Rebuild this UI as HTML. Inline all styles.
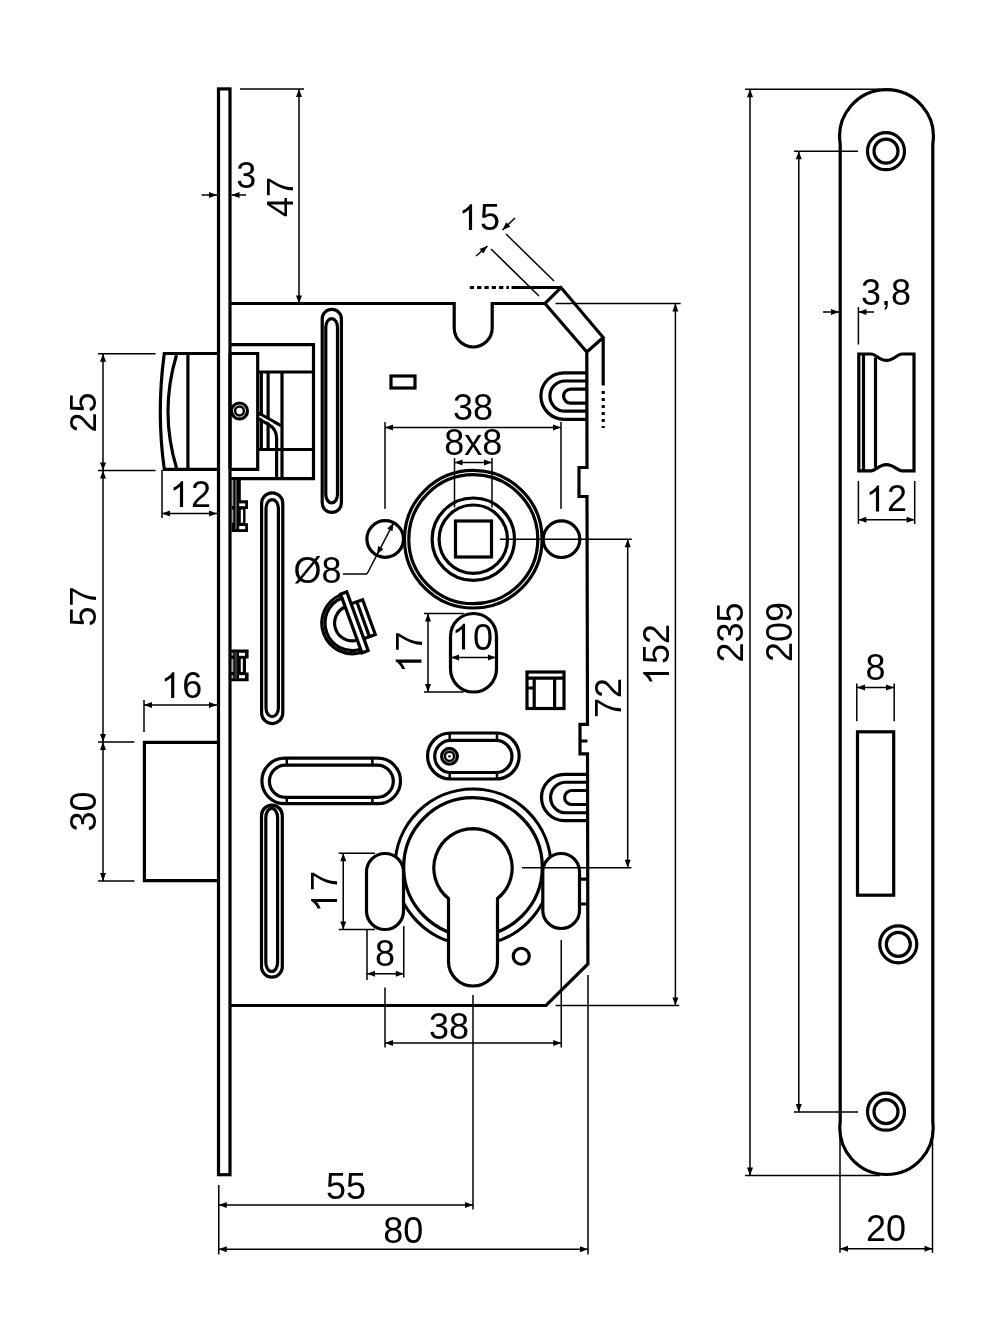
<!DOCTYPE html>
<html><head><meta charset="utf-8">
<style>
html,body{margin:0;padding:0;background:#fff;}
svg{display:block;will-change:transform;}
text{font-family:"Liberation Sans",sans-serif;font-size:36px;fill:#000;}
.k{fill:none;stroke:#000;stroke-width:3.2;stroke-linejoin:miter;}
.m{fill:none;stroke:#000;stroke-width:2.5;}
.t{fill:none;stroke:#000;stroke-width:1.5;}
.a{fill:#000;stroke:none;}
</style></head><body>
<svg width="1000" height="1342" viewBox="0 0 1000 1342">
<rect width="1000" height="1342" fill="#fff"/>
<defs>
<path id="ar" d="M0,0 L-8,-2.8 L-8,2.8 Z"/>
</defs>

<!-- FACEPLATE -->
<rect class="k" x="218.5" y="88.9" width="11.5" height="1085.8"/>

<!-- BODY OUTLINE -->
<path class="k" d="M230,303.5 H454.2 V328 A19,19 0 0 0 492.2,328 V303.5 H545 L561,287.5 L603.2,337.5 L586.8,352 L587,467.5 H579 V496.5 H587 L587.5,724.4 H580 V753.8 H587.5 L587.9,964 L546,1005.5 H230"/>
<path class="k" d="M545,303.5 L586.8,352 M603.2,337.5 V385.6 M580,741 H587.5"/>
<path class="k" d="M603.2,391 V428" stroke-dasharray="3,4"/>
<path class="k" d="M511.5,287.5 H561"/>
<path class="k" d="M469.8,287.5 H509" stroke-dasharray="4.3,3"/>


<!-- DEADBOLT -->
<path class="k" d="M217,742.4 H144.4 V880.6 H217"/>
<!-- LATCH outside -->
<path class="k" d="M217,353.5 H164.3 Q156.3,411.5 164.3,469.4 H217"/>
<path class="k" d="M176.5,355 Q159.5,411.5 176.5,468"/>
<path class="k" d="M187.9,355 V468"/>
<!-- LATCH inside -->
<path class="k" d="M230,353.5 H257.7 V469.4 H230"/>
<circle class="k" cx="239.5" cy="411" r="8"/>
<circle class="m" cx="239.5" cy="411" r="4.4"/>
<path class="k" d="M230,344.6 H313.5 V478.7 H230"/>
<path class="k" d="M258,372 H313.5 M258,449.5 H313.5"/>
<path class="k" d="M261.3,372 V449.5 M268.1,372 V449.5" stroke-width="3"/>
<path class="k" d="M282,372 V478.5" stroke-width="3"/>
<path class="k" stroke-width="3" style="stroke-linejoin:round" d="M258,413 L281,425.7 M258,418.6 L268,424.2 Q276.6,429 276.6,438 V478.5"/>
<path d="M259.5,416.3 L273,423.8" stroke="#fff" stroke-width="1.8" fill="none"/>
<path class="k" d="M230,353.5 V469.4"/>

<!-- CLIPS on faceplate inner side -->
<path class="a" d="M231.5,477 H240.8 V500.2 H248 V509.1 H245.5 V523.2 H248 V532 H231.5 Z"/>
<rect x="239.2" y="503.4" width="6" height="2.8" fill="#fff"/>
<rect x="239.2" y="526" width="6" height="3.2" fill="#fff"/>
<rect x="240.8" y="509.6" width="2.3" height="13.1" fill="#fff"/>
<rect x="231.9" y="480" width="1.5" height="26" fill="#999"/>
<rect x="231.9" y="509.6" width="1.5" height="13.1" fill="#999"/>
<rect x="235" y="480" width="1.9" height="49" fill="#555"/>
<path class="a" d="M229,649.6 H248.6 V658.4 H246 V672.4 H248.6 V681.2 H229 Z"/>
<rect x="239" y="652.8" width="6" height="3" fill="#fff"/>
<rect x="239" y="675.2" width="6" height="3" fill="#fff"/>
<rect x="240.8" y="658.8" width="2" height="13.2" fill="#fff"/>
<rect x="231.5" y="658.8" width="1.8" height="13.2" fill="#aaa"/>
<rect x="231.5" y="652.8" width="1.8" height="2.8" fill="#aaa"/>
<rect x="231.5" y="675.2" width="1.8" height="3.2" fill="#aaa"/>
<rect x="234.4" y="652" width="2.8" height="27" fill="#333"/>

<!-- SLOTS -->
<!-- A top vertical -->
<path class="k" d="M322.2,319 A9.6,9.6 0 0 1 341.4,319 V502.8 A9.6,9.6 0 0 1 322.2,502.8 Z"/>
<path class="k" d="M325.8,327 A5.85,8.3 0 0 1 337.5,327 V494.6 A5.85,8.3 0 0 1 325.8,494.6 Z"/>
<!-- B left long vertical -->
<path class="k" d="M261.6,503.4 A10.6,10.6 0 0 1 282.8,503.4 V713 A10.6,10.6 0 0 1 261.6,713 Z"/>
<path class="k" d="M266,508.1 A6.2,8.5 0 0 1 278.4,508.1 V708.1 A6.2,8.5 0 0 1 266,708.1 Z"/>
<!-- D horizontal left -->
<path class="k" d="M284.65,758.2 H377.75 A22.75,22.75 0 0 1 377.75,803.7 H284.65 A22.75,22.75 0 0 1 284.65,758.2 Z"/>
<path class="k" d="M285.5,765.1 H377.2 A16.1,16.1 0 0 1 377.2,797.3 H285.5 A16.1,16.1 0 0 1 285.5,765.1 Z"/>
<path class="m" d="M286.8,758.2 V765.1 M372.4,758.2 V765.1 M286.8,797.3 V803.7 M372.4,797.3 V803.7"/>
<!-- C bottom-left vertical -->
<path class="k" d="M261.5,815.6 A10.4,10.4 0 0 1 282.3,815.6 V966.8 A10.4,10.4 0 0 1 261.5,966.8 Z"/>
<path class="k" d="M265.8,817.4 A5.9,9 0 0 1 277.6,817.4 V962.4 A5.9,9 0 0 1 265.8,962.4 Z"/>
<!-- E horizontal with screw -->
<path class="k" d="M450.5,733 H496.2 A23,23 0 0 1 496.2,779 H450.5 A23,23 0 0 1 450.5,733 Z"/>
<path class="k" d="M450.8,740.3 H495.9 A16.1,16.1 0 0 1 495.9,772.5 H450.8 A16.1,16.1 0 0 1 450.8,740.3 Z"/>
<path class="m" d="M449.7,733 V740.3 M497,733 V740.3 M449.7,772.5 V779 M497,772.5 V779"/>
<circle class="k" cx="449.5" cy="756.35" r="7.9"/>
<circle class="m" cx="449.5" cy="756.35" r="4.6"/>
<circle class="a" cx="449.5" cy="756.35" r="1.2"/>
<!-- small rect top -->
<rect class="k" x="391" y="376" width="24" height="12"/>

<!-- FOLLOWER -->
<circle class="k" cx="473.3" cy="539.2" r="68.8"/>
<circle class="k" cx="473.3" cy="539.2" r="64.5"/>
<circle class="k" cx="473.3" cy="539.2" r="41.2"/>
<circle class="k" cx="473.3" cy="539.2" r="34.2"/>
<rect class="k" x="455.5" y="521" width="36" height="36"/>
<circle class="k" cx="385.2" cy="539" r="18.3"/>
<circle class="k" cx="561.5" cy="539.2" r="18.3"/>

<!-- "10" slot -->
<path class="k" d="M450.5,636.5 A23,23 0 0 1 496.5,636.5 V669 A23,23 0 0 1 450.5,669 Z"/>

<!-- H rect -->
<rect class="k" x="527" y="672" width="37" height="36.5"/>
<path class="k" d="M527,678.2 H564 M534.2,678.2 V708.5 M554.6,678.2 V708.5 M527,688 H534.2"/>

<!-- U hooks -->
<path class="k" d="M587.5,372.9 H564.1 A23.2,23.2 0 0 0 564.1,419.3 H587.5"/>
<path class="k" d="M587.5,381 H565 A15.1,15.1 0 0 0 565,411.2 H587.5"/>
<path class="k" d="M587.5,389.1 H570.6 A7,7 0 0 0 570.6,403.1 H587.5"/>
<path class="k" d="M587.5,774.4 H564.6 A23.1,23.1 0 0 0 564.6,820.6 H587.5"/>
<path class="k" d="M587.5,782.25 H565.85 A15.25,15.25 0 0 0 565.85,812.75 H587.5"/>
<path class="k" d="M587.5,790.5 H571.6 A7,7 0 0 0 571.6,804.5 H587.5"/>

<!-- CYLINDER -->
<circle class="k" cx="473" cy="867" r="78" stroke-dasharray="0" />
<circle class="k" cx="473" cy="867" r="69.3"/>
<path class="k" fill="#fff" style="fill:#fff" d="M473,828.7 A39.2,39.2 0 0 1 497.5,898.5 V961.5 A24.5,24.5 0 0 1 448.5,961.5 V898.5 A39.2,39.2 0 0 1 473,828.7 Z"/>
<path class="k" style="fill:#fff" d="M385,853.5 A18.5,18.5 0 0 1 403.5,872 V911 A18.5,18.5 0 0 1 366.5,911 V872 A18.5,18.5 0 0 1 385,853.5 Z"/>
<path class="k" style="fill:#fff" d="M561.15,853.5 A18.35,18.35 0 0 1 579.5,871.85 V910.15 A18.35,18.35 0 0 1 542.8,910.15 V871.85 A18.35,18.35 0 0 1 561.15,853.5 Z"/>
<path class="k" d="M579.5,879.2 H587 M579.5,904 H587"/>
<circle class="k" cx="521.25" cy="956.25" r="8"/>

<!-- THUMBTURN -->
<g transform="translate(352.4,623.1) rotate(-20)">
<path class="k" d="M-1.5,-30.563 A30.6,30.6 0 0 0 -1.5,30.563" stroke-width="5.6"/>
<path class="k" d="M-1.5,-27.359 A27.4,27.4 0 0 0 -1.5,27.359" stroke-width="2.4"/>
<path class="k" d="M-1.5,-17.737 A17.8,17.8 0 0 0 -1.5,17.737"/>
<rect class="k" x="-1.2" y="-31.3" width="6.6" height="62.6" style="fill:#fff" stroke-width="3.6"/>
<path class="k" d="M5.4,-18.5 H17.6 V18.5 H5.4 M11.4,-18.5 V18.5" stroke-width="3.6"/>
</g>


<!-- STRIKE PLATE -->
<path class="k" d="M840.2,143.85 A46.88,46.88 0 1 1 932.8,143.85 V1122.05 A46.66,46.66 0 1 1 840.2,1122.05 Z"/>
<circle class="k" cx="886" cy="151.2" r="18.5"/><circle class="k" cx="886" cy="151.2" r="12"/>
<circle class="k" cx="898.3" cy="944.3" r="18.5"/><circle class="k" cx="898.3" cy="944.3" r="12"/>
<circle class="k" cx="886" cy="1111.7" r="18.5"/><circle class="k" cx="886" cy="1111.7" r="12"/>
<path class="k" d="M858.8,354 H871 C876,354 879,360.4 886.4,360.4 C894,360.4 897,354 902,354 H914 V470.8 H902 C897,470.8 894,464.6 886.4,464.6 C879,464.6 876,470.8 871,470.8 H858.8 Z"/>
<path class="k" d="M863.5,354 V470.8" stroke-width="2.6"/>
<path class="k" d="M875.5,357.5 V467.5"/>
<rect class="k" x="857.5" y="731.8" width="36.2" height="163.4"/>

<!-- DIMS -->
<path class="t" d="M201.6,195 L217,195"/><path class="a" d="M217.00,195.00 L209.00,198.00 L209.00,192.00 Z"/><path class="t" d="M231.5,195 L246,195"/><path class="a" d="M231.50,195.00 L239.50,192.00 L239.50,198.00 Z"/>
<g transform="translate(246.3,188.3)"><text x="0" y="0" text-anchor="middle">3</text></g>
<path class="t" d="M240,89 L304,89"/><path class="t" d="M299,89 L299,303.5"/><path class="a" d="M299.00,89.00 L302.00,97.00 L296.00,97.00 Z"/><path class="a" d="M299.00,303.50 L296.00,295.50 L302.00,295.50 Z"/>
<g transform="translate(279.5,197) rotate(-90) translate(0,13)"><text x="0" y="0" text-anchor="middle">47</text></g>
<path class="t" d="M98,353.8 L155.6,353.8"/><path class="t" d="M98,470.6 L155.6,470.6"/><path class="t" d="M98,742 L134.4,742"/><path class="t" d="M98,881 L134.4,881"/>
<path class="t" d="M103,353.8 L103,470.6"/><path class="a" d="M103.00,353.80 L106.00,361.80 L100.00,361.80 Z"/><path class="a" d="M103.00,470.60 L100.00,462.60 L106.00,462.60 Z"/><path class="t" d="M103,470.6 L103,742"/><path class="a" d="M103.00,470.60 L106.00,478.60 L100.00,478.60 Z"/><path class="a" d="M103.00,742.00 L100.00,734.00 L106.00,734.00 Z"/><path class="t" d="M103,742 L103,881"/><path class="a" d="M103.00,742.00 L106.00,750.00 L100.00,750.00 Z"/><path class="a" d="M103.00,881.00 L100.00,873.00 L106.00,873.00 Z"/>
<g transform="translate(82.7,412.5) rotate(-90) translate(0,13)"><text x="0" y="0" text-anchor="middle">25</text></g><g transform="translate(82.5,606.5) rotate(-90) translate(0,13)"><text x="0" y="0" text-anchor="middle">57</text></g><g transform="translate(82.7,811.5) rotate(-90) translate(0,13)"><text x="0" y="0" text-anchor="middle">30</text></g>
<path class="t" d="M162,513.6 L217,513.6"/><path class="a" d="M162.00,513.60 L170.00,510.60 L170.00,516.60 Z"/><path class="a" d="M217.00,513.60 L209.00,516.60 L209.00,510.60 Z"/><path class="t" d="M162,470 L162,518"/><g transform="translate(191,507)"><text x="0" y="0" text-anchor="middle"><tspan fill="transparent">1</tspan>2</text><path class="a" transform="translate(-21.321,0) scale(0.017578,-0.017578)" d="M763,0 H583 V1147 Q518,1085 412.5,1023 Q307,961 223,930 V1104 Q374,1175 487,1276 Q600,1377 647,1472 H763 Z"/></g>
<path class="t" d="M144,705 L217,705"/><path class="a" d="M144.00,705.00 L152.00,702.00 L152.00,708.00 Z"/><path class="a" d="M217.00,705.00 L209.00,708.00 L209.00,702.00 Z"/><path class="t" d="M144,700 L144,732"/><g transform="translate(182.2,698)"><text x="0" y="0" text-anchor="middle"><tspan fill="transparent">1</tspan>6</text><path class="a" transform="translate(-21.321,0) scale(0.017578,-0.017578)" d="M763,0 H583 V1147 Q518,1085 412.5,1023 Q307,961 223,930 V1104 Q374,1175 487,1276 Q600,1377 647,1472 H763 Z"/></g>
<path class="t" d="M491,249 L539,296"/><path class="t" d="M506,234 L554,281"/>
<path class="t" d="M476,256 L487.5,246"/><path class="a" d="M487.50,246.00 L483.43,253.51 L479.49,248.99 Z"/><path class="t" d="M515,218 L502.5,230"/><path class="a" d="M502.50,230.00 L506.19,222.30 L510.35,226.62 Z"/>
<g transform="translate(480,230)"><text x="0" y="0" text-anchor="middle"><tspan fill="transparent">1</tspan>5</text><path class="a" transform="translate(-21.321,0) scale(0.017578,-0.017578)" d="M763,0 H583 V1147 Q518,1085 412.5,1023 Q307,961 223,930 V1104 Q374,1175 487,1276 Q600,1377 647,1472 H763 Z"/></g>
<path class="t" d="M385,427.5 L561,427.5"/><path class="a" d="M385.00,427.50 L393.00,424.50 L393.00,430.50 Z"/><path class="a" d="M561.00,427.50 L553.00,430.50 L553.00,424.50 Z"/><path class="t" d="M385,422 L385,508.75"/><path class="t" d="M561,422 L561,508.75"/><g transform="translate(473,419.5)"><text x="0" y="0" text-anchor="middle">38</text></g>
<path class="t" d="M454.5,462.5 L492,462.5"/><path class="a" d="M454.50,462.50 L462.50,459.50 L462.50,465.50 Z"/><path class="a" d="M492.00,462.50 L484.00,465.50 L484.00,459.50 Z"/><path class="t" d="M454.5,458 L454.5,507.5"/><path class="t" d="M492,458 L492,507.5"/><g transform="translate(473.2,454.5)"><text x="0" y="0" text-anchor="middle">8x8</text></g>
<path class="t" d="M393.6,522.8 L367,574"/><path class="t" d="M367,574 L343,574"/><path class="a" d="M393.60,522.80 L392.56,531.28 L387.24,528.50 Z"/><path class="a" d="M377.00,554.60 L378.04,546.12 L383.36,548.90 Z"/>
<g transform="translate(317.5,583)"><text x="0" y="0" text-anchor="middle">Ø8</text></g>
<path class="t" d="M428,613.5 L428,692"/><path class="a" d="M428.00,613.50 L431.00,621.50 L425.00,621.50 Z"/><path class="a" d="M428.00,692.00 L425.00,684.00 L431.00,684.00 Z"/><path class="t" d="M424,613.5 L463.75,613.5"/><path class="t" d="M424,692 L463.75,692"/><g transform="translate(408.5,651.6) rotate(-90) translate(0,13)"><text x="0" y="0" text-anchor="middle"><tspan fill="transparent">1</tspan>7</text><path class="a" transform="translate(-21.321,0) scale(0.017578,-0.017578)" d="M763,0 H583 V1147 Q518,1085 412.5,1023 Q307,961 223,930 V1104 Q374,1175 487,1276 Q600,1377 647,1472 H763 Z"/></g>
<path class="t" d="M451,657.5 L496,657.5"/><path class="a" d="M451.00,657.50 L459.00,654.50 L459.00,660.50 Z"/><path class="a" d="M496.00,657.50 L488.00,660.50 L488.00,654.50 Z"/><g transform="translate(473,649.5)"><text x="0" y="0" text-anchor="middle"><tspan fill="transparent">1</tspan>0</text><path class="a" transform="translate(-21.321,0) scale(0.017578,-0.017578)" d="M763,0 H583 V1147 Q518,1085 412.5,1023 Q307,961 223,930 V1104 Q374,1175 487,1276 Q600,1377 647,1472 H763 Z"/></g>
<path class="t" d="M343.25,853.25 L343.25,929.5"/><path class="a" d="M343.25,853.25 L346.25,861.25 L340.25,861.25 Z"/><path class="a" d="M343.25,929.50 L340.25,921.50 L346.25,921.50 Z"/><path class="t" d="M338.75,853.25 L375,853.25"/><path class="t" d="M338.75,929.5 L375,929.5"/><g transform="translate(324,891) rotate(-90) translate(0,13)"><text x="0" y="0" text-anchor="middle"><tspan fill="transparent">1</tspan>7</text><path class="a" transform="translate(-21.321,0) scale(0.017578,-0.017578)" d="M763,0 H583 V1147 Q518,1085 412.5,1023 Q307,961 223,930 V1104 Q374,1175 487,1276 Q600,1377 647,1472 H763 Z"/></g>
<path class="t" d="M367,973.75 L403.75,973.75"/><path class="a" d="M367.00,973.75 L375.00,970.75 L375.00,976.75 Z"/><path class="a" d="M403.75,973.75 L395.75,976.75 L395.75,970.75 Z"/><path class="t" d="M367,930 L367,980"/><path class="t" d="M403.75,926 L403.75,977.5"/><g transform="translate(385,966)"><text x="0" y="0" text-anchor="middle">8</text></g>
<path class="t" d="M385,1043 L561.25,1043"/><path class="a" d="M385.00,1043.00 L393.00,1040.00 L393.00,1046.00 Z"/><path class="a" d="M561.25,1043.00 L553.25,1046.00 L553.25,1040.00 Z"/><path class="t" d="M385,987.5 L385,1047.5"/><path class="t" d="M561.25,940 L561.25,1047.5"/><g transform="translate(449,1038.75)"><text x="0" y="0" text-anchor="middle">38</text></g>
<path class="t" d="M473,995 L473,1209.5"/><path class="t" d="M588,975 L588,1254.4"/>
<path class="t" d="M218.75,1185 L218.75,1254.5"/><path class="t" d="M218.75,1205 L473,1205"/><path class="a" d="M218.75,1205.00 L226.75,1202.00 L226.75,1208.00 Z"/><path class="a" d="M473.00,1205.00 L465.00,1208.00 L465.00,1202.00 Z"/><path class="t" d="M218.75,1249.25 L588,1249.25"/><path class="a" d="M218.75,1249.25 L226.75,1246.25 L226.75,1252.25 Z"/><path class="a" d="M588.00,1249.25 L580.00,1252.25 L580.00,1246.25 Z"/><g transform="translate(346,1198.75)"><text x="0" y="0" text-anchor="middle">55</text></g><g transform="translate(403.25,1242.5)"><text x="0" y="0" text-anchor="middle">80</text></g>
<path class="t" d="M675.4,303.4 L675.4,1005.4"/><path class="a" d="M675.40,303.40 L678.40,311.40 L672.40,311.40 Z"/><path class="a" d="M675.40,1005.40 L672.40,997.40 L678.40,997.40 Z"/><path class="t" d="M555.5,303.4 L680.7,303.4"/><path class="t" d="M555.6,1005.4 L679.3,1005.4"/><g transform="translate(656,654) rotate(-90) translate(0,13)"><text x="0" y="0" text-anchor="middle"><tspan fill="transparent">1</tspan>52</text><path class="a" transform="translate(-31.332,0) scale(0.017578,-0.017578)" d="M763,0 H583 V1147 Q518,1085 412.5,1023 Q307,961 223,930 V1104 Q374,1175 487,1276 Q600,1377 647,1472 H763 Z"/></g>
<path class="t" d="M627.7,539.2 L627.7,867.7"/><path class="a" d="M627.70,539.20 L630.70,547.20 L624.70,547.20 Z"/><path class="a" d="M627.70,867.70 L624.70,859.70 L630.70,859.70 Z"/><path class="t" d="M500,539.2 L631.8,539.2"/><path class="t" d="M522,867.7 L631.4,867.7"/><g transform="translate(607.8,698) rotate(-90) translate(0,13)"><text x="0" y="0" text-anchor="middle">72</text></g>
<path class="t" d="M750,89.3 L750,1175.5"/><path class="a" d="M750.00,89.30 L753.00,97.30 L747.00,97.30 Z"/><path class="a" d="M750.00,1175.50 L747.00,1167.50 L753.00,1167.50 Z"/><path class="t" d="M745.2,89.3 L880,89.3"/><path class="t" d="M745,1175.5 L880,1175.5"/><g transform="translate(729.9,632.5) rotate(-90) translate(0,13)"><text x="0" y="0" text-anchor="middle">235</text></g>
<path class="t" d="M798.8,151.2 L798.8,1112"/><path class="a" d="M798.80,151.20 L801.80,159.20 L795.80,159.20 Z"/><path class="a" d="M798.80,1112.00 L795.80,1104.00 L801.80,1104.00 Z"/><path class="t" d="M794,151.2 L858,151.2"/><path class="t" d="M794,1112 L858,1112"/><g transform="translate(778.6,632) rotate(-90) translate(0,13)"><text x="0" y="0" text-anchor="middle">209</text></g>
<path class="t" d="M823,312 L839,312"/><path class="a" d="M839.00,312.00 L831.00,315.00 L831.00,309.00 Z"/><path class="t" d="M874,312 L858.4,312"/><path class="a" d="M858.40,312.00 L866.40,309.00 L866.40,315.00 Z"/><path class="t" d="M858.4,307 L858.4,344.5"/><g transform="translate(886,304.8)"><text x="0" y="0" text-anchor="middle">3,8</text></g>
<path class="t" d="M858.4,519.7 L914.7,519.7"/><path class="a" d="M858.40,519.70 L866.40,516.70 L866.40,522.70 Z"/><path class="a" d="M914.70,519.70 L906.70,522.70 L906.70,516.70 Z"/><path class="t" d="M858.4,481 L858.4,524"/><path class="t" d="M914.7,481 L914.7,524"/><g transform="translate(887,511.4)"><text x="0" y="0" text-anchor="middle"><tspan fill="transparent">1</tspan>2</text><path class="a" transform="translate(-21.321,0) scale(0.017578,-0.017578)" d="M763,0 H583 V1147 Q518,1085 412.5,1023 Q307,961 223,930 V1104 Q374,1175 487,1276 Q600,1377 647,1472 H763 Z"/></g>
<path class="t" d="M857,687.4 L894,687.4"/><path class="a" d="M857.00,687.40 L865.00,684.40 L865.00,690.40 Z"/><path class="a" d="M894.00,687.40 L886.00,690.40 L886.00,684.40 Z"/><path class="t" d="M856.8,683.5 L856.8,721.2"/><path class="t" d="M894.2,683.5 L894.2,721.2"/><g transform="translate(875.5,680.1)"><text x="0" y="0" text-anchor="middle">8</text></g>
<path class="t" d="M840,1248.7 L932.5,1248.7"/><path class="a" d="M840.00,1248.70 L848.00,1245.70 L848.00,1251.70 Z"/><path class="a" d="M932.50,1248.70 L924.50,1251.70 L924.50,1245.70 Z"/><path class="t" d="M840,1130 L840,1252.8"/><path class="t" d="M932.5,1130 L932.5,1252.8"/><g transform="translate(885.9,1241.3)"><text x="0" y="0" text-anchor="middle">20</text></g>
</svg>
</body></html>
